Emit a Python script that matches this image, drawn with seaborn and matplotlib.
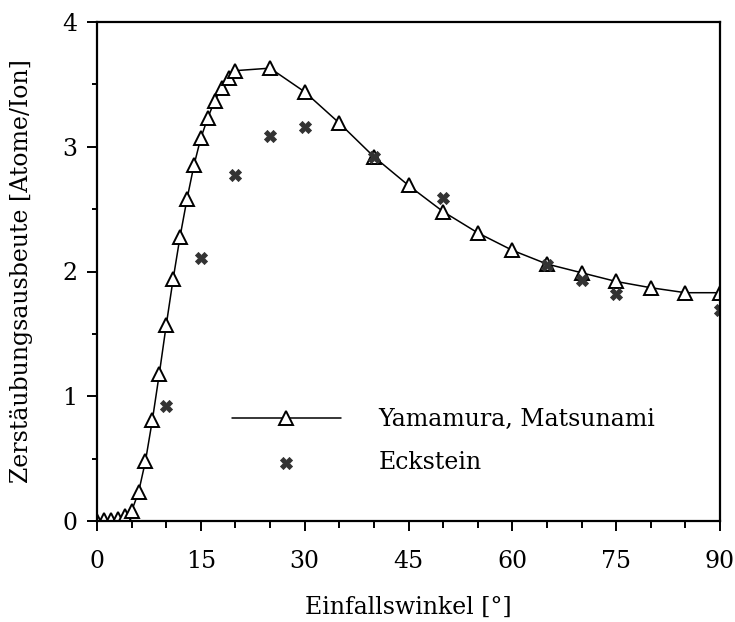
import matplotlib
matplotlib.use("Agg")
import matplotlib.pyplot as plt
from matplotlib.ticker import MultipleLocator
import numpy as np
import pandas as pd
import seaborn as sns

# Sputtering yield vs. angle of incidence
yam_angle = [0, 1, 2, 3, 4, 5, 6, 7, 8, 9, 10, 11, 12, 13, 14, 15, 16, 17, 18, 19, 20,
             25, 30, 35, 40, 45, 50, 55, 60, 65, 70, 75, 80, 85, 90]
yam_yield = [0.0, 0.01, 0.01, 0.02, 0.04, 0.08, 0.23, 0.48, 0.81, 1.18, 1.57, 1.94, 2.28,
             2.58, 2.85, 3.07, 3.23, 3.37, 3.47, 3.55, 3.61,
             3.63, 3.44, 3.19, 2.92, 2.69, 2.48, 2.31, 2.17, 2.06, 1.99, 1.92, 1.87, 1.83, 1.83]

eck_angle = [10, 15, 20, 25, 30, 40, 50, 65, 70, 75, 90]
eck_yield = [0.92, 2.11, 2.77, 3.09, 3.16, 2.92, 2.59, 2.05, 1.93, 1.82, 1.69]

x_ticks = [0, 15, 30, 45, 60, 75, 90]
y_ticks = [0, 1, 2, 3, 4]

sns.set_theme(style="ticks")
plt.rcParams["font.family"] = ["DejaVu Serif"]
plt.rcParams.update({"text.color": "black", "axes.labelcolor": "black",
                     "xtick.color": "black", "ytick.color": "black"})

FS = 17

fig = plt.figure(figsize=(7.35, 6.22), dpi=100)
ax = fig.add_axes([97 / 735, 1 - 521 / 622, 623 / 735, 499 / 622])

yam = pd.DataFrame({"angle": yam_angle, "yield": yam_yield})
eck = pd.DataFrame({"angle": eck_angle, "yield": eck_yield})

sns.lineplot(data=yam, x="angle", y="yield", ax=ax, color="black", linewidth=1.1,
             marker="^", markersize=9.5, markerfacecolor="white",
             markeredgecolor="black", markeredgewidth=1.4,
             label="Yamamura, Matsunami", zorder=3)
sns.scatterplot(data=eck, x="angle", y="yield", ax=ax, marker="X", s=75,
                color="#333333", edgecolor="#333333", linewidth=0.6,
                label="Eckstein", zorder=4)

ax.set_xlim(0, 90)
ax.set_ylim(0, 4)
ax.set_xticks(x_ticks)
ax.set_yticks(y_ticks)
ax.xaxis.set_minor_locator(MultipleLocator(5))
ax.yaxis.set_minor_locator(MultipleLocator(0.5))
ax.tick_params(axis="both", which="major", direction="out", length=7.2, width=1.4,
               labelsize=FS, colors="black")
ax.tick_params(axis="x", which="major", pad=14)
ax.tick_params(axis="y", which="major", pad=7)
ax.tick_params(axis="x", which="minor", direction="out", length=5, width=1.4)
ax.tick_params(axis="y", which="minor", direction="out", length=3.6, width=1.4)

for s in ax.spines.values():
    s.set_visible(True)
    s.set_linewidth(1.6)
    s.set_color("black")
    s.set_zorder(5)

ax.set_xlabel("Einfallswinkel [°]", fontsize=FS, labelpad=16)
ax.set_ylabel("Zerstäubungsausbeute [Atome/Ion]", fontsize=FS, labelpad=21)

leg = ax.legend(loc="upper left", bbox_to_anchor=(0.2016, 0.2455), frameon=False,
                fontsize=FS, handlelength=4.6, handletextpad=1.6, labelspacing=0.85,
                borderaxespad=0, numpoints=1)

fig.savefig("out.png", dpi=100, facecolor="white")
